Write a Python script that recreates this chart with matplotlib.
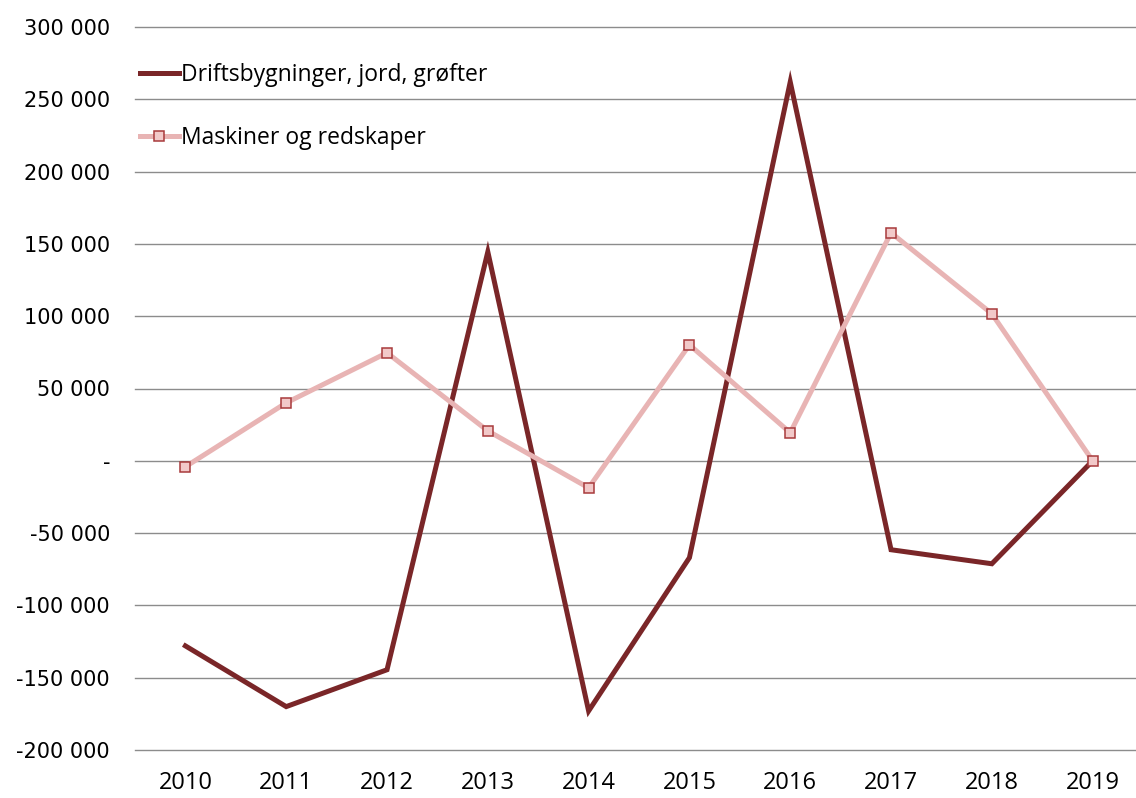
import matplotlib
matplotlib.use("Agg")
import matplotlib.pyplot as plt
from matplotlib.ticker import FuncFormatter, MultipleLocator

years = ["2010", "2011", "2012", "2013", "2014", "2015", "2016", "2017", "2018", "2019"]
drift = [-128000, -170000, -144500, 144500, -173000, -67000, 262000, -61500, -71200, 0]
maskiner = [-4100, 40100, 74700, 20700, -18700, 80200, 19400, 157700, 101700, 0]

fig = plt.figure(figsize=(11.36, 7.98), dpi=100)
ax = fig.add_axes([135/1136, 48/798, 1 - 135/1136, 723/798])

x = list(range(len(years)))
ax.plot(x, drift, color="#7A2628", lw=3.6, solid_joinstyle="miter",
        label="Driftsbygninger, jord, grøfter", zorder=3)
ax.plot(x, maskiner, color="#E8B4B4", lw=3.6, marker="s", markersize=6.5,
        markerfacecolor="#F2C9C9", markeredgecolor="#A83A3C", markeredgewidth=1.1,
        label="Maskiner og redskaper", zorder=4)

ax.set_ylim(-200000, 300000)
ax.set_xlim(-0.5, 9.43)
ax.yaxis.set_major_locator(MultipleLocator(50000))
def fmt(v, pos):
    v = int(round(v))
    if v == 0:
        return "-"
    s = f"{abs(v):,}".replace(",", " ")
    return ("-" if v < 0 else "") + s
ax.yaxis.set_major_formatter(FuncFormatter(fmt))
ax.set_xticks(x)
ax.set_xticklabels(years)
ax.grid(axis="y", color="#8C8C8C", lw=1.0)
for gl in ax.get_ygridlines():
    gl.set_clip_on(False)
ax.set_axisbelow(True)
for s in ax.spines.values():
    s.set_visible(False)
ax.tick_params(axis="both", length=0)
ax.tick_params(axis="y", pad=18)
ax.tick_params(axis="x", pad=15)
for t in ax.get_yticklabels():
    t.set_fontfamily(["DejaVu Sans"])
    t.set_fontsize(15)
for t in ax.get_xticklabels():
    t.set_fontfamily(["Liberation Sans Narrow", "Open Sans"])
    t.set_fontsize(17)

leg = ax.legend(loc="upper left", bbox_to_anchor=(0.005, 0.95), frameon=False,
                prop={"family": "Open Sans", "size": 16.5}, handlelength=1.7,
                handletextpad=0.1, labelspacing=1.7, borderaxespad=0.0,
                borderpad=0.0)
fig.savefig("out.png", dpi=100)
